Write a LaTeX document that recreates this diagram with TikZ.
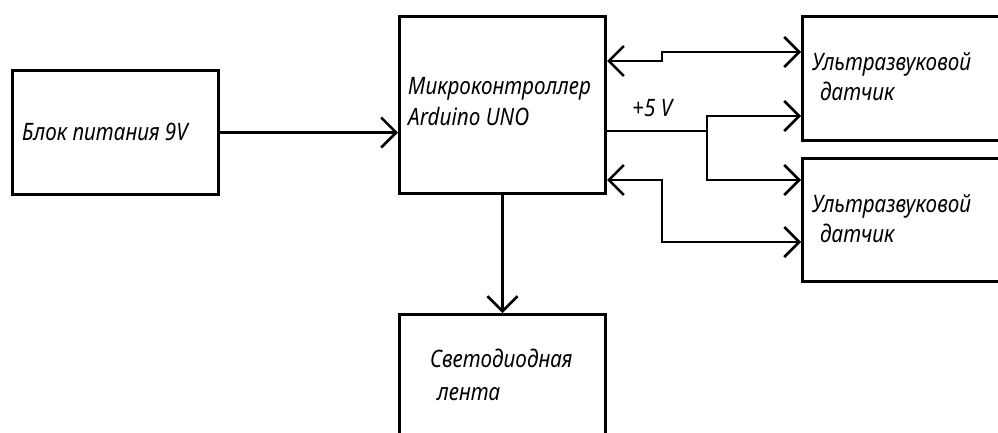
\documentclass[tikz,border=0pt]{standalone}
\usepackage{fontspec}
\setmainfont{Noto Sans}[FakeStretch=0.86]
\usetikzlibrary{arrows.meta}
\tikzset{
  box/.style={draw, line width=3pt, rectangle, anchor=north west, inner sep=0pt},
  lbl/.style={anchor=base west, inner sep=0pt, font=\fontsize{24}{26}\selectfont\itshape},
  conn/.style={line width=2.5pt},
  arr/.style={conn, -{Straight Barb[length=15pt,width=30pt,line width=2.5pt]}},
  biarr/.style={conn, {Straight Barb[length=15pt,width=30pt,line width=2.5pt]}-{Straight Barb[length=15pt,width=30pt,line width=2.5pt]}},
}
\begin{document}
\begin{tikzpicture}[x=1pt,y=-1pt]
\useasboundingbox (0,0) rectangle (998,432);
\fill[white] (0,0) rectangle (998,432);
\clip (0,0) rectangle (998,432);
% boxes
\node[box, minimum width=206pt, minimum height=124pt] (pw) at (11,69) {};
\node[box, minimum width=206pt, minimum height=177pt] (mcu) at (398,15) {};
\node[box, minimum width=215pt, minimum height=124pt] (s1) at (801,15) {};
\node[box, minimum width=215pt, minimum height=123pt] (s2) at (801,157) {};
\node[box, minimum width=206pt, minimum height=140pt] (led) at (398,313) {};
% texts
\node[lbl] (tpw) at (22,140) {Блок питания 9V};
\node[lbl] (tm1) at (408,94) {Микроконтроллер};
\node[lbl] (tm2) at (408,125) {Arduino UNO};
\node[lbl] (t5v) at (632,116) {+5 V};
\node[lbl] (ts1a) at (812,70) {Ультразвуковой};
\node[lbl] (ts1b) at (820,100) {датчик};
\node[lbl] (ts2a) at (812,212) {Ультразвуковой};
\node[lbl] (ts2b) at (820,242) {датчик};
\node[lbl] (tl1) at (430,367) {Светодиодная};
\node[lbl] (tl2) at (437,400) {лента};
% connectors
\draw[arr] (pw.east) -- (pw.east -| mcu.west);
\draw[arr] (mcu.south) -- (led.north);
\draw[biarr] (mcu.east |- 0,61) -- (662,61) -- (662,52) -- (s1.west |- 0,52);
\draw[biarr] (mcu.east |- 0,180) -- (662,180) -- (662,242) -- (s2.west |- 0,242);
\coordinate (j) at (707,131);
\draw[conn] (mcu.east |- 0,131) -- (j);
\draw[arr] (j) |- (s1.west |- 0,116);
\draw[arr] (j) |- (s2.west |- 0,180);
\end{tikzpicture}
\end{document}
